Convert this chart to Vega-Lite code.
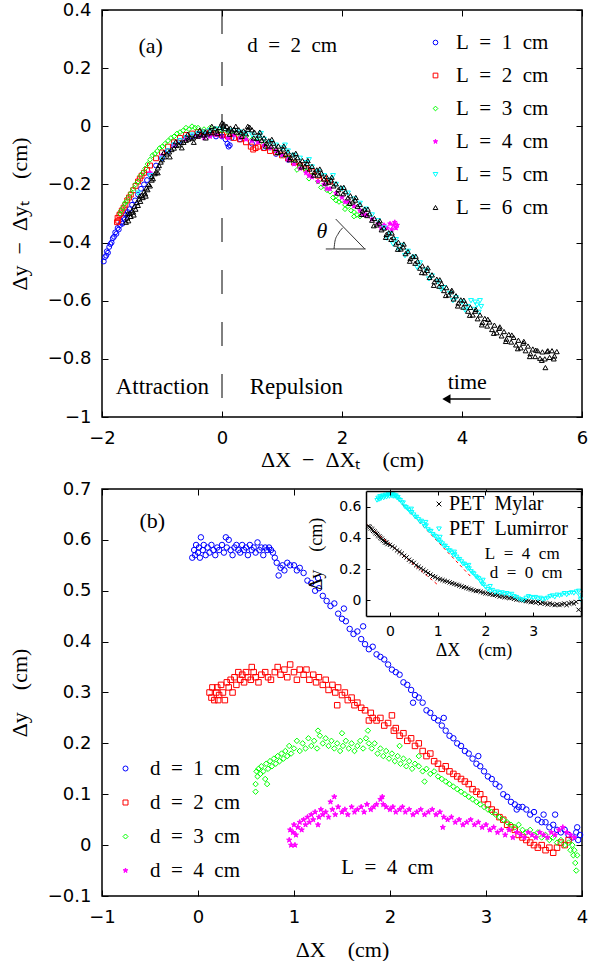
{
"$schema":"https://vega.github.io/schema/vega-lite/v6.json",
"background":"white",
"padding":{"left":7,"top":0,"right":0,"bottom":0},
"bounds":"flush",
"spacing":72,
"config":{
 "view":{"stroke":"black","strokeWidth":1.5},
 "axis":{"domain":false,"grid":false,"tickColor":"black","tickSize":-6,"tickWidth":1,"labelFont":"DejaVu Sans","labelFontSize":18,"labelColor":"black","titleFont":"Liberation Serif","titleFontSize":22,"titleFontWeight":"normal","titleColor":"black","labelFlush":false,"labelOverlap":false,"labelBound":false},
 "legend":{"padding":0,"titleFontSize":0}
},
"resolve":{"scale":{"stroke":"independent","fill":"independent","shape":"independent"},"legend":{"stroke":"independent","fill":"independent","shape":"independent"}},
"vconcat":[
{
 "width":480,"height":407,
 "resolve":{"axis":{"x":"independent","y":"independent"}},
 "layer":[
  {"data":{"values":[
{"L":"1","x":-1.97,"y":-0.465},{"L":"1","x":-1.95,"y":-0.45},{"L":"1","x":-1.93,"y":-0.445},{"L":"1","x":-1.92,"y":-0.43},{"L":"1","x":-1.9,"y":-0.435},{"L":"1","x":-1.88,"y":-0.415},{"L":"1","x":-1.86,"y":-0.405},{"L":"1","x":-1.84,"y":-0.4},{"L":"1","x":-1.82,"y":-0.385},{"L":"1","x":-1.8,"y":-0.38},{"L":"1","x":-1.78,"y":-0.365},{"L":"1","x":-1.76,"y":-0.37},{"L":"1","x":-1.74,"y":-0.35},{"L":"1","x":-1.72,"y":-0.355},{"L":"1","x":-1.7,"y":-0.34},{"L":"1","x":-1.68,"y":-0.33},{"L":"1","x":-1.66,"y":-0.335},{"L":"1","x":-1.64,"y":-0.315},{"L":"1","x":-1.62,"y":-0.32},{"L":"1","x":-1.6,"y":-0.305},{"L":"1","x":-1.57,"y":-0.295},{"L":"1","x":-1.54,"y":-0.285},{"L":"1","x":-1.5,"y":-0.27},{"L":"1","x":-1.45,"y":-0.255},{"L":"1","x":-1.4,"y":-0.235},{"L":"1","x":-1.35,"y":-0.215},{"L":"1","x":-1.3,"y":-0.2},{"L":"1","x":-1.25,"y":-0.185},{"L":"1","x":-1.2,"y":-0.165},{"L":"1","x":-1.1,"y":-0.135},{"L":"1","x":-1.0,"y":-0.11},{"L":"1","x":-0.9,"y":-0.085},{"L":"1","x":-0.8,"y":-0.065},{"L":"1","x":-0.7,"y":-0.05},{"L":"1","x":-0.6,"y":-0.04},{"L":"1","x":-0.5,"y":-0.035},{"L":"1","x":-0.4,"y":-0.03},{"L":"1","x":-0.3,"y":-0.03},{"L":"1","x":-0.2,"y":-0.03},{"L":"1","x":-0.1,"y":-0.035},{"L":"1","x":0.0,"y":-0.035},{"L":"1","x":0.06,"y":-0.045},{"L":"1","x":0.09,"y":-0.06},{"L":"1","x":0.11,"y":-0.07},{"L":"1","x":0.13,"y":-0.065},{"L":"1","x":0.16,"y":-0.04},{"L":"1","x":0.3,"y":-0.045},{"L":"1","x":0.5,"y":-0.06},{"L":"1","x":0.7,"y":-0.075},{"L":"1","x":0.9,"y":-0.095},{"L":"1","x":1.1,"y":-0.115},
{"L":"2","x":-1.75,"y":-0.33},{"L":"2","x":-1.74,"y":-0.315},{"L":"2","x":-1.73,"y":-0.325},{"L":"2","x":-1.71,"y":-0.305},{"L":"2","x":-1.69,"y":-0.3},{"L":"2","x":-1.67,"y":-0.29},{"L":"2","x":-1.64,"y":-0.28},{"L":"2","x":-1.61,"y":-0.27},{"L":"2","x":-1.58,"y":-0.255},{"L":"2","x":-1.55,"y":-0.245},{"L":"2","x":-1.52,"y":-0.235},{"L":"2","x":-1.48,"y":-0.22},{"L":"2","x":-1.44,"y":-0.205},{"L":"2","x":-1.4,"y":-0.19},{"L":"2","x":-1.37,"y":-0.18},{"L":"2","x":-1.34,"y":-0.17},{"L":"2","x":-1.3,"y":-0.16},{"L":"2","x":-1.25,"y":-0.15},{"L":"2","x":-1.2,"y":-0.135},{"L":"2","x":-1.1,"y":-0.11},{"L":"2","x":-1.0,"y":-0.09},{"L":"2","x":-0.9,"y":-0.07},{"L":"2","x":-0.8,"y":-0.055},{"L":"2","x":-0.7,"y":-0.04},{"L":"2","x":-0.6,"y":-0.03},{"L":"2","x":-0.5,"y":-0.025},{"L":"2","x":-0.4,"y":-0.02},{"L":"2","x":-0.3,"y":-0.02},{"L":"2","x":-0.2,"y":-0.02},{"L":"2","x":-0.1,"y":-0.025},{"L":"2","x":0.0,"y":-0.03},{"L":"2","x":0.1,"y":-0.035},{"L":"2","x":0.2,"y":-0.04},{"L":"2","x":0.3,"y":-0.045},{"L":"2","x":0.4,"y":-0.055},{"L":"2","x":0.48,"y":-0.07},{"L":"2","x":0.52,"y":-0.08},{"L":"2","x":0.56,"y":-0.075},{"L":"2","x":0.6,"y":-0.07},{"L":"2","x":0.7,"y":-0.075},{"L":"2","x":0.8,"y":-0.085},{"L":"2","x":0.9,"y":-0.09},{"L":"2","x":1.0,"y":-0.1},{"L":"2","x":1.1,"y":-0.11},{"L":"2","x":1.2,"y":-0.125},{"L":"2","x":1.3,"y":-0.135},{"L":"2","x":1.4,"y":-0.145},{"L":"2","x":1.5,"y":-0.155},{"L":"2","x":1.6,"y":-0.17},{"L":"2","x":1.7,"y":-0.18},{"L":"2","x":1.8,"y":-0.19},
{"L":"3","x":-1.7,"y":-0.3},{"L":"3","x":-1.68,"y":-0.29},{"L":"3","x":-1.65,"y":-0.28},{"L":"3","x":-1.62,"y":-0.265},{"L":"3","x":-1.6,"y":-0.26},{"L":"3","x":-1.56,"y":-0.245},{"L":"3","x":-1.52,"y":-0.23},{"L":"3","x":-1.48,"y":-0.215},{"L":"3","x":-1.44,"y":-0.2},{"L":"3","x":-1.4,"y":-0.19},{"L":"3","x":-1.36,"y":-0.17},{"L":"3","x":-1.32,"y":-0.16},{"L":"3","x":-1.28,"y":-0.145},{"L":"3","x":-1.24,"y":-0.13},{"L":"3","x":-1.2,"y":-0.115},{"L":"3","x":-1.16,"y":-0.1},{"L":"3","x":-1.12,"y":-0.095},{"L":"3","x":-1.08,"y":-0.085},{"L":"3","x":-1.04,"y":-0.075},{"L":"3","x":-1.0,"y":-0.07},{"L":"3","x":-0.95,"y":-0.06},{"L":"3","x":-0.9,"y":-0.05},{"L":"3","x":-0.85,"y":-0.04},{"L":"3","x":-0.8,"y":-0.035},{"L":"3","x":-0.75,"y":-0.025},{"L":"3","x":-0.7,"y":-0.02},{"L":"3","x":-0.65,"y":-0.015},{"L":"3","x":-0.6,"y":-0.005},{"L":"3","x":-0.55,"y":-0.01},{"L":"3","x":-0.5,"y":0.0},{"L":"3","x":-0.45,"y":-0.005},{"L":"3","x":-0.4,"y":-0.005},{"L":"3","x":-0.3,"y":-0.01},{"L":"3","x":-0.2,"y":-0.005},{"L":"3","x":-0.1,"y":-0.01},{"L":"3","x":0.0,"y":-0.015},{"L":"3","x":0.1,"y":-0.02},{"L":"3","x":0.2,"y":-0.025},{"L":"3","x":0.3,"y":-0.03},{"L":"3","x":0.4,"y":-0.035},{"L":"3","x":0.5,"y":-0.045},{"L":"3","x":0.6,"y":-0.05},{"L":"3","x":0.7,"y":-0.06},{"L":"3","x":0.8,"y":-0.075},{"L":"3","x":0.9,"y":-0.085},{"L":"3","x":1.0,"y":-0.1},{"L":"3","x":1.1,"y":-0.11},{"L":"3","x":1.2,"y":-0.125},{"L":"3","x":1.25,"y":-0.15},{"L":"3","x":1.3,"y":-0.14},{"L":"3","x":1.4,"y":-0.155},{"L":"3","x":1.45,"y":-0.18},{"L":"3","x":1.5,"y":-0.17},{"L":"3","x":1.6,"y":-0.19},{"L":"3","x":1.65,"y":-0.21},{"L":"3","x":1.7,"y":-0.205},{"L":"3","x":1.75,"y":-0.22},{"L":"3","x":1.8,"y":-0.225},{"L":"3","x":1.85,"y":-0.245},{"L":"3","x":1.9,"y":-0.24},{"L":"3","x":1.9,"y":-0.255},{"L":"3","x":1.95,"y":-0.26},{"L":"3","x":2.0,"y":-0.255},{"L":"3","x":2.05,"y":-0.27},{"L":"3","x":2.05,"y":-0.285},{"L":"3","x":2.1,"y":-0.275},{"L":"3","x":2.15,"y":-0.29},{"L":"3","x":2.2,"y":-0.295},{"L":"3","x":2.2,"y":-0.31},{"L":"3","x":2.25,"y":-0.305},{"L":"3","x":2.3,"y":-0.31},
{"L":"4","x":-1.2,"y":-0.16},{"L":"4","x":-1.0,"y":-0.1},{"L":"4","x":-0.8,"y":-0.065},{"L":"4","x":-0.6,"y":-0.045},{"L":"4","x":-0.4,"y":-0.035},{"L":"4","x":-0.3,"y":-0.04},{"L":"4","x":-0.2,"y":-0.035},{"L":"4","x":-0.1,"y":-0.03},{"L":"4","x":0.0,"y":-0.035},{"L":"4","x":0.1,"y":-0.04},{"L":"4","x":0.2,"y":-0.03},{"L":"4","x":0.3,"y":-0.04},{"L":"4","x":0.4,"y":-0.045},{"L":"4","x":0.5,"y":-0.05},{"L":"4","x":0.6,"y":-0.055},{"L":"4","x":0.7,"y":-0.065},{"L":"4","x":0.8,"y":-0.075},{"L":"4","x":0.9,"y":-0.085},{"L":"4","x":1.0,"y":-0.1},{"L":"4","x":1.1,"y":-0.115},{"L":"4","x":1.2,"y":-0.13},{"L":"4","x":1.3,"y":-0.145},{"L":"4","x":1.4,"y":-0.16},{"L":"4","x":1.45,"y":-0.17},{"L":"4","x":1.5,"y":-0.175},{"L":"4","x":1.6,"y":-0.19},{"L":"4","x":1.7,"y":-0.2},{"L":"4","x":1.75,"y":-0.215},{"L":"4","x":1.8,"y":-0.215},{"L":"4","x":1.9,"y":-0.23},{"L":"4","x":2.0,"y":-0.245},{"L":"4","x":2.05,"y":-0.26},{"L":"4","x":2.1,"y":-0.26},{"L":"4","x":2.2,"y":-0.275},{"L":"4","x":2.3,"y":-0.29},{"L":"4","x":2.35,"y":-0.305},{"L":"4","x":2.4,"y":-0.305},{"L":"4","x":2.5,"y":-0.32},{"L":"4","x":2.6,"y":-0.335},{"L":"4","x":2.65,"y":-0.35},{"L":"4","x":2.7,"y":-0.34},{"L":"4","x":2.75,"y":-0.35},{"L":"4","x":2.8,"y":-0.335},{"L":"4","x":2.83,"y":-0.355},{"L":"4","x":2.86,"y":-0.34},{"L":"4","x":2.88,"y":-0.33},{"L":"4","x":2.9,"y":-0.35},{"L":"4","x":2.92,"y":-0.34},
{"L":"5","x":-1.4,"y":-0.23},{"L":"5","x":-1.2,"y":-0.17},{"L":"5","x":-1.0,"y":-0.11},{"L":"5","x":-0.9,"y":-0.085},{"L":"5","x":-0.8,"y":-0.065},{"L":"5","x":-0.7,"y":-0.05},{"L":"5","x":-0.6,"y":-0.04},{"L":"5","x":-0.5,"y":-0.03},{"L":"5","x":-0.4,"y":-0.025},{"L":"5","x":-0.3,"y":-0.02},{"L":"5","x":-0.2,"y":-0.015},{"L":"5","x":-0.1,"y":-0.01},{"L":"5","x":0.0,"y":-0.01},{"L":"5","x":0.1,"y":-0.015},{"L":"5","x":0.2,"y":-0.015},{"L":"5","x":0.3,"y":-0.02},{"L":"5","x":0.4,"y":-0.025},{"L":"5","x":0.5,"y":-0.03},{"L":"5","x":0.6,"y":-0.04},{"L":"5","x":0.65,"y":-0.025},{"L":"5","x":0.7,"y":-0.045},{"L":"5","x":0.8,"y":-0.055},{"L":"5","x":0.9,"y":-0.065},{"L":"5","x":1.0,"y":-0.075},{"L":"5","x":1.05,"y":-0.065},{"L":"5","x":1.1,"y":-0.085},{"L":"5","x":1.2,"y":-0.1},{"L":"5","x":1.3,"y":-0.11},{"L":"5","x":1.4,"y":-0.125},{"L":"5","x":1.45,"y":-0.115},{"L":"5","x":1.5,"y":-0.14},{"L":"5","x":1.6,"y":-0.155},{"L":"5","x":1.7,"y":-0.17},{"L":"5","x":1.8,"y":-0.185},{"L":"5","x":1.85,"y":-0.17},{"L":"5","x":1.9,"y":-0.2},{"L":"5","x":2.0,"y":-0.215},{"L":"5","x":2.1,"y":-0.23},{"L":"5","x":2.2,"y":-0.25},{"L":"5","x":2.3,"y":-0.265},{"L":"5","x":2.4,"y":-0.285},{"L":"5","x":2.5,"y":-0.305},{"L":"5","x":2.6,"y":-0.325},{"L":"5","x":2.7,"y":-0.35},{"L":"5","x":2.75,"y":-0.385},{"L":"5","x":2.8,"y":-0.37},{"L":"5","x":2.85,"y":-0.405},{"L":"5","x":2.9,"y":-0.39},{"L":"5","x":2.95,"y":-0.425},{"L":"5","x":3.0,"y":-0.41},{"L":"5","x":3.05,"y":-0.445},{"L":"5","x":3.1,"y":-0.43},{"L":"5","x":3.2,"y":-0.45},{"L":"5","x":3.25,"y":-0.485},{"L":"5","x":3.3,"y":-0.47},{"L":"5","x":3.4,"y":-0.495},{"L":"5","x":3.45,"y":-0.525},{"L":"5","x":3.5,"y":-0.515},{"L":"5","x":3.6,"y":-0.535},{"L":"5","x":3.65,"y":-0.56},{"L":"5","x":3.7,"y":-0.555},{"L":"5","x":3.8,"y":-0.575},{"L":"5","x":3.85,"y":-0.6},{"L":"5","x":3.9,"y":-0.59},{"L":"5","x":4.0,"y":-0.605},{"L":"5","x":4.05,"y":-0.632},{"L":"5","x":4.1,"y":-0.62},{"L":"5","x":4.15,"y":-0.6},{"L":"5","x":4.2,"y":-0.63},{"L":"5","x":4.22,"y":-0.605},{"L":"5","x":4.25,"y":-0.615},{"L":"5","x":4.28,"y":-0.64},{"L":"5","x":4.3,"y":-0.6},{"L":"5","x":4.32,"y":-0.62},
{"L":"6","x":-1.6,"y":-0.33},{"L":"6","x":-1.58,"y":-0.315},{"L":"6","x":-1.56,"y":-0.325},{"L":"6","x":-1.54,"y":-0.3},{"L":"6","x":-1.52,"y":-0.31},{"L":"6","x":-1.5,"y":-0.29},{"L":"6","x":-1.48,"y":-0.295},{"L":"6","x":-1.46,"y":-0.275},{"L":"6","x":-1.44,"y":-0.285},{"L":"6","x":-1.42,"y":-0.262},{"L":"6","x":-1.4,"y":-0.272},{"L":"6","x":-1.38,"y":-0.25},{"L":"6","x":-1.36,"y":-0.258},{"L":"6","x":-1.34,"y":-0.238},{"L":"6","x":-1.32,"y":-0.245},{"L":"6","x":-1.3,"y":-0.225},{"L":"6","x":-1.28,"y":-0.232},{"L":"6","x":-1.26,"y":-0.212},{"L":"6","x":-1.24,"y":-0.218},{"L":"6","x":-1.22,"y":-0.2},{"L":"6","x":-1.2,"y":-0.205},{"L":"6","x":-1.17,"y":-0.185},{"L":"6","x":-1.15,"y":-0.18},{"L":"6","x":-1.12,"y":-0.163},{"L":"6","x":-1.1,"y":-0.158},{"L":"6","x":-1.07,"y":-0.143},{"L":"6","x":-1.05,"y":-0.135},{"L":"6","x":-1.02,"y":-0.123},{"L":"6","x":-1.0,"y":-0.115},{"L":"6","x":-0.96,"y":-0.105},{"L":"6","x":-0.92,"y":-0.095},{"L":"6","x":-0.88,"y":-0.088},{"L":"6","x":-0.84,"y":-0.08},{"L":"6","x":-0.8,"y":-0.075},{"L":"6","x":-0.76,"y":-0.066},{"L":"6","x":-0.72,"y":-0.064},{"L":"6","x":-0.68,"y":-0.056},{"L":"6","x":-0.64,"y":-0.055},{"L":"6","x":-0.6,"y":-0.048},{"L":"6","x":-0.56,"y":-0.044},{"L":"6","x":-0.52,"y":-0.04},{"L":"6","x":-0.48,"y":-0.04},{"L":"6","x":-0.44,"y":-0.032},{"L":"6","x":-0.4,"y":-0.034},{"L":"6","x":-0.36,"y":-0.027},{"L":"6","x":-0.32,"y":-0.03},{"L":"6","x":-0.28,"y":-0.02},{"L":"6","x":-0.24,"y":-0.026},{"L":"6","x":-0.2,"y":-0.015},{"L":"6","x":-0.16,"y":-0.022},{"L":"6","x":-0.12,"y":-0.008},{"L":"6","x":-0.08,"y":-0.016},{"L":"6","x":-0.04,"y":-0.004},{"L":"6","x":0.0,"y":0.012},{"L":"6","x":0.02,"y":0.002},{"L":"6","x":0.05,"y":-0.008},{"L":"6","x":0.08,"y":0.0},{"L":"6","x":0.11,"y":-0.012},{"L":"6","x":0.14,"y":-0.006},{"L":"6","x":0.17,"y":-0.016},{"L":"6","x":0.2,"y":-0.01},{"L":"6","x":0.24,"y":-0.02},{"L":"6","x":0.28,"y":-0.012},{"L":"6","x":0.32,"y":-0.022},{"L":"6","x":0.36,"y":-0.016},{"L":"6","x":0.4,"y":-0.026},{"L":"6","x":0.43,"y":-0.01},{"L":"6","x":0.46,"y":-0.003},{"L":"6","x":0.5,"y":-0.012},
{"L":"6","x":0.54,"y":-0.02},{"L":"6","x":0.58,"y":-0.042},{"L":"6","x":0.62,"y":-0.03},{"L":"6","x":0.66,"y":-0.048},{"L":"6","x":0.7,"y":-0.04},{"L":"6","x":0.74,"y":-0.058},{"L":"6","x":0.78,"y":-0.05},{"L":"6","x":0.82,"y":-0.068},{"L":"6","x":0.86,"y":-0.058},{"L":"6","x":0.9,"y":-0.076},{"L":"6","x":0.94,"y":-0.068},{"L":"6","x":0.98,"y":-0.087},{"L":"6","x":1.02,"y":-0.078},{"L":"6","x":1.06,"y":-0.096},{"L":"6","x":1.1,"y":-0.088},{"L":"6","x":1.14,"y":-0.107},{"L":"6","x":1.18,"y":-0.098},{"L":"6","x":1.22,"y":-0.116},{"L":"6","x":1.26,"y":-0.108},{"L":"6","x":1.3,"y":-0.126},{"L":"6","x":1.34,"y":-0.118},{"L":"6","x":1.38,"y":-0.137},{"L":"6","x":1.42,"y":-0.128},{"L":"6","x":1.46,"y":-0.147},{"L":"6","x":1.5,"y":-0.138},{"L":"6","x":1.54,"y":-0.158},{"L":"6","x":1.58,"y":-0.15},{"L":"6","x":1.62,"y":-0.168},{"L":"6","x":1.66,"y":-0.161},{"L":"6","x":1.7,"y":-0.181},{"L":"6","x":1.74,"y":-0.173},{"L":"6","x":1.78,"y":-0.192},{"L":"6","x":1.82,"y":-0.185},{"L":"6","x":1.86,"y":-0.205},{"L":"6","x":1.9,"y":-0.198},{"L":"6","x":1.94,"y":-0.218},{"L":"6","x":1.98,"y":-0.211},{"L":"6","x":2.02,"y":-0.232},{"L":"6","x":2.06,"y":-0.225},{"L":"6","x":2.1,"y":-0.246},{"L":"6","x":2.14,"y":-0.239},{"L":"6","x":2.18,"y":-0.26},{"L":"6","x":2.22,"y":-0.254},{"L":"6","x":2.26,"y":-0.275},{"L":"6","x":2.3,"y":-0.269},{"L":"6","x":2.34,"y":-0.291},{"L":"6","x":2.38,"y":-0.285},{"L":"6","x":2.42,"y":-0.307},{"L":"6","x":2.46,"y":-0.301},{"L":"6","x":2.5,"y":-0.323},{"L":"6","x":2.54,"y":-0.317},{"L":"6","x":2.58,"y":-0.339},{"L":"6","x":2.62,"y":-0.333},{"L":"6","x":2.66,"y":-0.356},{"L":"6","x":2.7,"y":-0.35},{"L":"6","x":2.74,"y":-0.372},{"L":"6","x":2.78,"y":-0.366},{"L":"6","x":2.82,"y":-0.389},{"L":"6","x":2.86,"y":-0.383},{"L":"6","x":2.9,"y":-0.405},{"L":"6","x":2.94,"y":-0.399},{"L":"6","x":2.98,"y":-0.422},{"L":"6","x":3.02,"y":-0.415},{"L":"6","x":3.06,"y":-0.438},{"L":"6","x":3.1,"y":-0.431},{"L":"6","x":3.14,"y":-0.455},{"L":"6","x":3.18,"y":-0.448},{"L":"6","x":3.22,"y":-0.471},{"L":"6","x":3.26,"y":-0.464},{"L":"6","x":3.3,"y":-0.488},{"L":"6","x":3.34,"y":-0.48},{"L":"6","x":3.38,"y":-0.504},{"L":"6","x":3.42,"y":-0.496},{"L":"6","x":3.46,"y":-0.52},{"L":"6","x":3.5,"y":-0.511},{"L":"6","x":3.54,"y":-0.535},{"L":"6","x":3.58,"y":-0.526},{"L":"6","x":3.62,"y":-0.55},{"L":"6","x":3.66,"y":-0.541},{"L":"6","x":3.7,"y":-0.565},{"L":"6","x":3.74,"y":-0.555},{"L":"6","x":3.78,"y":-0.58},{"L":"6","x":3.82,"y":-0.569},{"L":"6","x":3.86,"y":-0.594},{"L":"6","x":3.9,"y":-0.583},{"L":"6","x":3.94,"y":-0.608},{"L":"6","x":3.98,"y":-0.597},{"L":"6","x":4.02,"y":-0.622},{"L":"6","x":4.06,"y":-0.61},{"L":"6","x":4.1,"y":-0.636},{"L":"6","x":4.14,"y":-0.623},{"L":"6","x":4.18,"y":-0.649},{"L":"6","x":4.22,"y":-0.636},{"L":"6","x":4.26,"y":-0.662},{"L":"6","x":4.3,"y":-0.649},{"L":"6","x":4.34,"y":-0.675},{"L":"6","x":4.38,"y":-0.661},{"L":"6","x":4.42,"y":-0.687},{"L":"6","x":4.46,"y":-0.673},{"L":"6","x":4.5,"y":-0.699},{"L":"6","x":4.54,"y":-0.684},{"L":"6","x":4.58,"y":-0.71},{"L":"6","x":4.62,"y":-0.695},{"L":"6","x":4.66,"y":-0.721},{"L":"6","x":4.7,"y":-0.706},{"L":"6","x":4.74,"y":-0.732},{"L":"6","x":4.78,"y":-0.716},{"L":"6","x":4.82,"y":-0.742},{"L":"6","x":4.86,"y":-0.726},{"L":"6","x":4.9,"y":-0.752},{"L":"6","x":4.94,"y":-0.736},{"L":"6","x":4.98,"y":-0.762},{"L":"6","x":5.02,"y":-0.746},{"L":"6","x":5.06,"y":-0.772},{"L":"6","x":5.1,"y":-0.756},{"L":"6","x":5.14,"y":-0.782},{"L":"6","x":5.18,"y":-0.766},{"L":"6","x":5.22,"y":-0.792},{"L":"6","x":5.26,"y":-0.772},{"L":"6","x":5.3,"y":-0.798},{"L":"6","x":5.34,"y":-0.776},{"L":"6","x":5.38,"y":-0.8},{"L":"6","x":5.42,"y":-0.775},{"L":"6","x":5.46,"y":-0.795},{"L":"6","x":5.5,"y":-0.772},{"L":"6","x":5.54,"y":-0.79},{"L":"6","x":5.58,"y":-0.775},{"L":"6","x":5.39,"y":-0.83},
{"L":"6","x":-1.57,"y":-0.3},{"L":"6","x":-1.47,"y":-0.305},{"L":"6","x":-1.37,"y":-0.24},{"L":"6","x":-1.27,"y":-0.24},{"L":"6","x":-1.17,"y":-0.172},{"L":"6","x":-1.07,"y":-0.16},{"L":"6","x":-0.97,"y":-0.09},{"L":"6","x":-0.87,"y":-0.105},{"L":"6","x":-0.77,"y":-0.053},{"L":"6","x":-0.67,"y":-0.074},{"L":"6","x":-0.57,"y":-0.027},{"L":"6","x":-0.47,"y":-0.055},{"L":"6","x":-0.37,"y":-0.013},{"L":"6","x":-0.27,"y":-0.04},{"L":"6","x":-0.17,"y":0.0},{"L":"6","x":-0.07,"y":-0.025},{"L":"6","x":0.03,"y":0.008},{"L":"6","x":0.13,"y":-0.027},{"L":"6","x":0.23,"y":0.0},{"L":"6","x":0.33,"y":-0.035},{"L":"6","x":0.43,"y":0.0},{"L":"6","x":0.53,"y":-0.04},{"L":"6","x":0.63,"y":-0.02},{"L":"6","x":0.73,"y":-0.068},{"L":"6","x":0.83,"y":-0.045},{"L":"6","x":0.93,"y":-0.09},{"L":"6","x":1.03,"y":-0.068},{"L":"6","x":1.13,"y":-0.115},{"L":"6","x":1.23,"y":-0.093},{"L":"6","x":1.33,"y":-0.14},{"L":"6","x":1.43,"y":-0.118},{"L":"6","x":1.53,"y":-0.168},{"L":"6","x":1.63,"y":-0.147},{"L":"6","x":1.73,"y":-0.195},{"L":"6","x":1.83,"y":-0.175},{"L":"6","x":1.93,"y":-0.23},{"L":"6","x":2.03,"y":-0.21},{"L":"6","x":2.13,"y":-0.265},{"L":"6","x":2.23,"y":-0.245},{"L":"6","x":2.33,"y":-0.303},{"L":"6","x":2.43,"y":-0.285},{"L":"6","x":2.53,"y":-0.342},{"L":"6","x":2.63,"y":-0.325},{"L":"6","x":2.73,"y":-0.382},{"L":"6","x":2.83,"y":-0.367},{"L":"6","x":2.93,"y":-0.423},{"L":"6","x":3.03,"y":-0.405},{"L":"6","x":3.13,"y":-0.464},{"L":"6","x":3.23,"y":-0.447},{"L":"6","x":3.33,"y":-0.503},{"L":"6","x":3.43,"y":-0.487},{"L":"6","x":3.53,"y":-0.547},{"L":"6","x":3.63,"y":-0.528},{"L":"6","x":3.73,"y":-0.582},{"L":"6","x":3.83,"y":-0.564},{"L":"6","x":3.93,"y":-0.618},{"L":"6","x":4.03,"y":-0.598},{"L":"6","x":4.13,"y":-0.65},{"L":"6","x":4.23,"y":-0.63},{"L":"6","x":4.33,"y":-0.683},{"L":"6","x":4.43,"y":-0.664},{"L":"6","x":4.53,"y":-0.712},{"L":"6","x":4.63,"y":-0.69},{"L":"6","x":4.73,"y":-0.74},{"L":"6","x":4.83,"y":-0.718},{"L":"6","x":4.93,"y":-0.765},{"L":"6","x":5.03,"y":-0.74},{"L":"6","x":5.13,"y":-0.792},{"L":"6","x":5.23,"y":-0.77},{"L":"6","x":5.33,"y":-0.805},{"L":"6","x":5.43,"y":-0.772},{"L":"6","x":5.53,"y":-0.8}
  ]},
   "mark":{"type":"point","opacity":1,"strokeWidth":1,"size":24},
   "encoding":{
    "x":{"field":"x","type":"quantitative","scale":{"domain":[-2,6],"nice":false,"zero":false},"axis":{"orient":"bottom","values":[-2,0,2,4,6],"format":"~g","title":"ΔX\u2002−\u2002ΔXₜ\u2003(cm)","titlePadding":2,"labelPadding":18}},
    "y":{"field":"y","type":"quantitative","scale":{"domain":[-1,0.4],"nice":false,"zero":false},"axis":{"orient":"left","values":[-1,-0.8,-0.6,-0.4,-0.2,0,0.2,0.4],"format":"~g","title":"Δy\u2002−\u2002Δyₜ\u2003(cm)","titlePadding":16,"labelPadding":17}},
    "stroke":{"field":"L","type":"nominal","scale":{"domain":["1","2","3","4","5","6"],"range":["#0000ff","#ff0000","#00ff00","#ff00ff","#00ffff","#000000"]},"legend":{"orient":"none","legendX":323,"legendY":22,"title":null,"labelFont":"Liberation Serif","labelFontSize":21,"labelColor":"black","labelOffset":10,"rowPadding":11,"symbolSize":22,"symbolStrokeWidth":1,"labelExpr":"'L\u2002=\u2002' + datum.label + '\u2002cm'"}},
    "fill":{"field":"L","type":"nominal","scale":{"domain":["1","2","3","4","5","6"],"range":["transparent","transparent","transparent","#ff00ff","transparent","transparent"]},"legend":{"orient":"none","legendX":323,"legendY":22,"title":null,"labelFont":"Liberation Serif","labelFontSize":21,"labelColor":"black","labelOffset":10,"rowPadding":11,"symbolSize":22,"symbolStrokeWidth":1,"labelExpr":"'L\u2002=\u2002' + datum.label + '\u2002cm'"}},
    "shape":{"field":"L","type":"nominal","scale":{"domain":["1","2","3","4","5","6"],"range":["circle","square","diamond","M0,-1L0.2245,-0.309L0.951,-0.309L0.363,0.118L0.588,0.809L0,0.382L-0.588,0.809L-0.363,0.118L-0.951,-0.309L-0.2245,-0.309Z","triangle-down","triangle-up"]},"legend":{"orient":"none","legendX":323,"legendY":22,"title":null,"labelFont":"Liberation Serif","labelFontSize":21,"labelColor":"black","labelOffset":10,"rowPadding":11,"symbolSize":22,"symbolStrokeWidth":1,"labelExpr":"'L\u2002=\u2002' + datum.label + '\u2002cm'"}}
   }},
  {"data":{"values":[{}]},"mark":{"type":"rule","strokeDash":[24,28],"color":"black","strokeWidth":1},
   "encoding":{"x":{"datum":0,"scale":{"domain":[-2,6],"nice":false,"zero":false},"axis":{"orient":"top","values":[-2,0,2,4,6],"labels":false,"title":null}},
    "y":{"datum":0.4,"scale":{"domain":[-1,0.4],"nice":false,"zero":false},"axis":{"orient":"right","values":[-1,-0.8,-0.6,-0.4,-0.2,0,0.2,0.4],"labels":false,"title":null}},
    "y2":{"datum":-1}}},
  {"data":{"values":[{}]},"mark":{"type":"text","text":"(a)","font":"Liberation Serif","fontSize":22,"align":"center","baseline":"middle","color":"black"},
   "encoding":{"x":{"datum":-1.19,"scale":{"domain":[-2,6],"nice":false,"zero":false},"axis":null},"y":{"datum":0.277,"scale":{"domain":[-1,0.4],"nice":false,"zero":false},"axis":null}}},
  {"data":{"values":[{}]},"mark":{"type":"text","text":"d\u2002=\u20022\u2002cm","font":"Liberation Serif","fontSize":21,"align":"center","baseline":"middle","color":"black"},
   "encoding":{"x":{"datum":1.17,"scale":{"domain":[-2,6],"nice":false,"zero":false},"axis":null},"y":{"datum":0.277,"scale":{"domain":[-1,0.4],"nice":false,"zero":false},"axis":null}}},
  {"data":{"values":[{}]},"mark":{"type":"text","text":"Attraction","font":"Liberation Serif","fontSize":23,"align":"center","baseline":"middle","color":"black"},
   "encoding":{"x":{"datum":-0.995,"scale":{"domain":[-2,6],"nice":false,"zero":false},"axis":null},"y":{"datum":-0.898,"scale":{"domain":[-1,0.4],"nice":false,"zero":false},"axis":null}}},
  {"data":{"values":[{}]},"mark":{"type":"text","text":"Repulsion","font":"Liberation Serif","fontSize":23,"align":"center","baseline":"middle","color":"black"},
   "encoding":{"x":{"datum":1.24,"scale":{"domain":[-2,6],"nice":false,"zero":false},"axis":null},"y":{"datum":-0.898,"scale":{"domain":[-1,0.4],"nice":false,"zero":false},"axis":null}}},
  {"data":{"values":[{}]},"mark":{"type":"text","text":"time","font":"Liberation Serif","fontSize":22,"align":"center","baseline":"middle","color":"black"},
   "encoding":{"x":{"datum":4.088,"scale":{"domain":[-2,6],"nice":false,"zero":false},"axis":null},"y":{"datum":-0.881,"scale":{"domain":[-1,0.4],"nice":false,"zero":false},"axis":null}}},
  {"data":{"values":[{}]},"mark":{"type":"rule","color":"black","strokeWidth":1.5},
   "encoding":{"x":{"datum":3.72,"scale":{"domain":[-2,6],"nice":false,"zero":false},"axis":null},"x2":{"datum":4.478},"y":{"datum":-0.938,"scale":{"domain":[-1,0.4],"nice":false,"zero":false},"axis":null}}},
  {"data":{"values":[{}]},"mark":{"type":"point","shape":"triangle-left","filled":true,"color":"black","opacity":1,"size":90},
   "encoding":{"x":{"datum":3.74,"scale":{"domain":[-2,6],"nice":false,"zero":false},"axis":null},"y":{"datum":-0.938,"scale":{"domain":[-1,0.4],"nice":false,"zero":false},"axis":null}}},
  {"data":{"values":[{}]},"mark":{"type":"rule","color":"#333333","strokeWidth":1},
   "encoding":{"x":{"datum":1.73,"scale":{"domain":[-2,6],"nice":false,"zero":false},"axis":null},"x2":{"datum":2.395},"y":{"datum":-0.422,"scale":{"domain":[-1,0.4],"nice":false,"zero":false},"axis":null}}},
  {"data":{"values":[{}]},"mark":{"type":"rule","color":"#333333","strokeWidth":1},
   "encoding":{"x":{"datum":1.895,"scale":{"domain":[-2,6],"nice":false,"zero":false},"axis":null},"x2":{"datum":2.38},"y":{"datum":-0.319,"scale":{"domain":[-1,0.4],"nice":false,"zero":false},"axis":null},"y2":{"datum":-0.422}}},
  {"data":{"values":[{"x":1.867,"y":-0.422},{"x":1.883,"y":-0.395},{"x":1.933,"y":-0.371},{"x":2.013,"y":-0.349}]},"mark":{"type":"line","color":"#333333","strokeWidth":1,"interpolate":"monotone"},
   "encoding":{"x":{"field":"x","type":"quantitative","scale":{"domain":[-2,6],"nice":false,"zero":false},"axis":null},"y":{"field":"y","type":"quantitative","scale":{"domain":[-1,0.4],"nice":false,"zero":false},"axis":null}}},
  {"data":{"values":[{}]},"mark":{"type":"text","text":"θ","font":"Liberation Serif","fontStyle":"italic","fontSize":22,"align":"center","baseline":"middle","color":"black"},
   "encoding":{"x":{"datum":1.667,"scale":{"domain":[-2,6],"nice":false,"zero":false},"axis":null},"y":{"datum":-0.36,"scale":{"domain":[-1,0.4],"nice":false,"zero":false},"axis":null}}}
 ]
},
{
 "width":480,"height":407,
 "resolve":{"scale":{"x":"independent","y":"independent","stroke":"independent","fill":"independent","shape":"independent"},"axis":{"x":"independent","y":"independent"},"legend":{"stroke":"independent","fill":"independent","shape":"independent"}},
 "layer":[
  {"data":{"values":[
{"d":"1","x":-0.06,"y":0.565},{"d":"1","x":-0.04,"y":0.58},{"d":"1","x":-0.03,"y":0.57},{"d":"1","x":-0.02,"y":0.59},{"d":"1","x":0.0,"y":0.575},{"d":"1","x":0.01,"y":0.585},{"d":"1","x":0.02,"y":0.565},{"d":"1","x":0.03,"y":0.605},{"d":"1","x":0.05,"y":0.58},{"d":"1","x":0.06,"y":0.59},{"d":"1","x":0.08,"y":0.57},{"d":"1","x":0.1,"y":0.585},{"d":"1","x":0.12,"y":0.575},{"d":"1","x":0.14,"y":0.59},{"d":"1","x":0.16,"y":0.58},{"d":"1","x":0.18,"y":0.57},{"d":"1","x":0.2,"y":0.585},{"d":"1","x":0.22,"y":0.58},{"d":"1","x":0.25,"y":0.59},{"d":"1","x":0.27,"y":0.575},{"d":"1","x":0.29,"y":0.605},{"d":"1","x":0.3,"y":0.585},{"d":"1","x":0.32,"y":0.6},{"d":"1","x":0.34,"y":0.58},{"d":"1","x":0.36,"y":0.57},{"d":"1","x":0.38,"y":0.585},{"d":"1","x":0.4,"y":0.59},{"d":"1","x":0.42,"y":0.58},{"d":"1","x":0.44,"y":0.575},{"d":"1","x":0.46,"y":0.59},{"d":"1","x":0.48,"y":0.58},{"d":"1","x":0.5,"y":0.585},{"d":"1","x":0.52,"y":0.57},{"d":"1","x":0.54,"y":0.59},{"d":"1","x":0.56,"y":0.58},{"d":"1","x":0.58,"y":0.585},{"d":"1","x":0.6,"y":0.575},{"d":"1","x":0.62,"y":0.595},{"d":"1","x":0.64,"y":0.58},{"d":"1","x":0.66,"y":0.585},{"d":"1","x":0.68,"y":0.57},{"d":"1","x":0.7,"y":0.585},{"d":"1","x":0.72,"y":0.58},{"d":"1","x":0.74,"y":0.585},{"d":"1","x":0.76,"y":0.58},{"d":"1","x":0.78,"y":0.575},{"d":"1","x":0.8,"y":0.565},{"d":"1","x":0.82,"y":0.555},{"d":"1","x":0.84,"y":0.53},{"d":"1","x":0.86,"y":0.545},{"d":"1","x":0.88,"y":0.55},{"d":"1","x":0.9,"y":0.54},{"d":"1","x":0.93,"y":0.555},{"d":"1","x":0.96,"y":0.55},{"d":"1","x":1.0,"y":0.55},{"d":"1","x":1.03,"y":0.54},{"d":"1","x":1.06,"y":0.545},{"d":"1","x":1.1,"y":0.535},{"d":"1","x":1.14,"y":0.52},{"d":"1","x":1.18,"y":0.515},{"d":"1","x":1.22,"y":0.5},{"d":"1","x":1.25,"y":0.525},{"d":"1","x":1.26,"y":0.505},{"d":"1","x":1.3,"y":0.49},{"d":"1","x":1.34,"y":0.48},{"d":"1","x":1.38,"y":0.47},{"d":"1","x":1.42,"y":0.475},{"d":"1","x":1.46,"y":0.455},{"d":"1","x":1.5,"y":0.445},{"d":"1","x":1.52,"y":0.465},{"d":"1","x":1.54,"y":0.44},{"d":"1","x":1.58,"y":0.425},{"d":"1","x":1.62,"y":0.415},{"d":"1","x":1.66,"y":0.42},{"d":"1","x":1.7,"y":0.405},{"d":"1","x":1.72,"y":0.43},{"d":"1","x":1.74,"y":0.395},{"d":"1","x":1.78,"y":0.385},{"d":"1","x":1.82,"y":0.39},{"d":"1","x":1.86,"y":0.375},{"d":"1","x":1.9,"y":0.37},{"d":"1","x":1.94,"y":0.365},{"d":"1","x":1.98,"y":0.355},{"d":"1","x":2.02,"y":0.345},{"d":"1","x":2.06,"y":0.34},{"d":"1","x":2.1,"y":0.335},{"d":"1","x":2.14,"y":0.32},{"d":"1","x":2.18,"y":0.315},{"d":"1","x":2.22,"y":0.305},{"d":"1","x":2.24,"y":0.28},{"d":"1","x":2.26,"y":0.295},{"d":"1","x":2.3,"y":0.29},{"d":"1","x":2.34,"y":0.28},{"d":"1","x":2.38,"y":0.265},{"d":"1","x":2.42,"y":0.26},{"d":"1","x":2.46,"y":0.25},{"d":"1","x":2.5,"y":0.245},{"d":"1","x":2.54,"y":0.235},{"d":"1","x":2.56,"y":0.25},{"d":"1","x":2.58,"y":0.225},{"d":"1","x":2.62,"y":0.215},{"d":"1","x":2.66,"y":0.21},{"d":"1","x":2.7,"y":0.2},{"d":"1","x":2.74,"y":0.195},{"d":"1","x":2.78,"y":0.185},{"d":"1","x":2.82,"y":0.18},{"d":"1","x":2.86,"y":0.17},{"d":"1","x":2.9,"y":0.16},{"d":"1","x":2.92,"y":0.175},{"d":"1","x":2.94,"y":0.155},{"d":"1","x":2.98,"y":0.145},{"d":"1","x":3.02,"y":0.135},{"d":"1","x":3.06,"y":0.13},{"d":"1","x":3.1,"y":0.12},{"d":"1","x":3.14,"y":0.115},{"d":"1","x":3.18,"y":0.1},{"d":"1","x":3.22,"y":0.095},{"d":"1","x":3.26,"y":0.085},{"d":"1","x":3.3,"y":0.08},{"d":"1","x":3.32,"y":0.07},{"d":"1","x":3.34,"y":0.075},{"d":"1","x":3.38,"y":0.075},{"d":"1","x":3.42,"y":0.07},{"d":"1","x":3.46,"y":0.06},{"d":"1","x":3.5,"y":0.065},{"d":"1","x":3.54,"y":0.05},{"d":"1","x":3.58,"y":0.045},{"d":"1","x":3.6,"y":0.06},{"d":"1","x":3.62,"y":0.045},{"d":"1","x":3.66,"y":0.035},{"d":"1","x":3.7,"y":0.04},{"d":"1","x":3.72,"y":0.06},{"d":"1","x":3.74,"y":0.03},{"d":"1","x":3.78,"y":0.025},{"d":"1","x":3.82,"y":0.03},{"d":"1","x":3.86,"y":0.02},{"d":"1","x":3.9,"y":0.015},{"d":"1","x":3.94,"y":0.025},{"d":"1","x":3.95,"y":0.035},{"d":"1","x":3.96,"y":0.01},{"d":"1","x":3.98,"y":0.02},
{"d":"2","x":0.12,"y":0.3},{"d":"2","x":0.14,"y":0.29},{"d":"2","x":0.15,"y":0.31},{"d":"2","x":0.17,"y":0.285},{"d":"2","x":0.19,"y":0.3},{"d":"2","x":0.2,"y":0.31},{"d":"2","x":0.21,"y":0.285},{"d":"2","x":0.22,"y":0.295},{"d":"2","x":0.24,"y":0.315},{"d":"2","x":0.26,"y":0.3},{"d":"2","x":0.28,"y":0.285},{"d":"2","x":0.3,"y":0.32},{"d":"2","x":0.32,"y":0.31},{"d":"2","x":0.34,"y":0.325},{"d":"2","x":0.36,"y":0.3},{"d":"2","x":0.38,"y":0.33},{"d":"2","x":0.4,"y":0.315},{"d":"2","x":0.42,"y":0.34},{"d":"2","x":0.44,"y":0.325},{"d":"2","x":0.46,"y":0.335},{"d":"2","x":0.48,"y":0.32},{"d":"2","x":0.5,"y":0.34},{"d":"2","x":0.52,"y":0.33},{"d":"2","x":0.55,"y":0.325},{"d":"2","x":0.56,"y":0.35},{"d":"2","x":0.58,"y":0.34},{"d":"2","x":0.6,"y":0.33},{"d":"2","x":0.63,"y":0.32},{"d":"2","x":0.66,"y":0.335},{"d":"2","x":0.7,"y":0.34},{"d":"2","x":0.73,"y":0.33},{"d":"2","x":0.76,"y":0.325},{"d":"2","x":0.8,"y":0.34},{"d":"2","x":0.83,"y":0.35},{"d":"2","x":0.86,"y":0.335},{"d":"2","x":0.9,"y":0.345},{"d":"2","x":0.93,"y":0.33},{"d":"2","x":0.96,"y":0.355},{"d":"2","x":1.0,"y":0.34},{"d":"2","x":1.03,"y":0.325},{"d":"2","x":1.06,"y":0.345},{"d":"2","x":1.1,"y":0.335},{"d":"2","x":1.13,"y":0.345},{"d":"2","x":1.16,"y":0.325},{"d":"2","x":1.2,"y":0.335},{"d":"2","x":1.23,"y":0.32},{"d":"2","x":1.26,"y":0.33},{"d":"2","x":1.3,"y":0.315},{"d":"2","x":1.33,"y":0.325},{"d":"2","x":1.36,"y":0.305},{"d":"2","x":1.4,"y":0.315},{"d":"2","x":1.43,"y":0.3},{"d":"2","x":1.45,"y":0.275},{"d":"2","x":1.46,"y":0.31},{"d":"2","x":1.5,"y":0.295},{"d":"2","x":1.53,"y":0.3},{"d":"2","x":1.56,"y":0.285},{"d":"2","x":1.6,"y":0.29},{"d":"2","x":1.63,"y":0.275},{"d":"2","x":1.66,"y":0.28},{"d":"2","x":1.7,"y":0.27},{"d":"2","x":1.74,"y":0.265},{"d":"2","x":1.78,"y":0.245},{"d":"2","x":1.8,"y":0.26},{"d":"2","x":1.82,"y":0.25},{"d":"2","x":1.86,"y":0.245},{"d":"2","x":1.9,"y":0.25},{"d":"2","x":1.94,"y":0.235},{"d":"2","x":1.98,"y":0.24},{"d":"2","x":2.02,"y":0.255},{"d":"2","x":2.04,"y":0.225},{"d":"2","x":2.06,"y":0.23},{"d":"2","x":2.1,"y":0.215},{"d":"2","x":2.14,"y":0.22},{"d":"2","x":2.18,"y":0.205},{"d":"2","x":2.22,"y":0.21},{"d":"2","x":2.26,"y":0.195},{"d":"2","x":2.3,"y":0.2},{"d":"2","x":2.34,"y":0.185},{"d":"2","x":2.38,"y":0.175},{"d":"2","x":2.42,"y":0.18},{"d":"2","x":2.46,"y":0.165},{"d":"2","x":2.5,"y":0.16},{"d":"2","x":2.54,"y":0.15},{"d":"2","x":2.58,"y":0.155},{"d":"2","x":2.62,"y":0.145},{"d":"2","x":2.66,"y":0.14},{"d":"2","x":2.7,"y":0.135},{"d":"2","x":2.74,"y":0.13},{"d":"2","x":2.78,"y":0.125},{"d":"2","x":2.82,"y":0.12},{"d":"2","x":2.86,"y":0.11},{"d":"2","x":2.9,"y":0.105},{"d":"2","x":2.94,"y":0.1},{"d":"2","x":2.98,"y":0.09},{"d":"2","x":3.02,"y":0.08},{"d":"2","x":3.06,"y":0.07},{"d":"2","x":3.1,"y":0.065},{"d":"2","x":3.14,"y":0.055},{"d":"2","x":3.18,"y":0.05},{"d":"2","x":3.22,"y":0.04},{"d":"2","x":3.26,"y":0.035},{"d":"2","x":3.3,"y":0.03},{"d":"2","x":3.34,"y":0.02},{"d":"2","x":3.38,"y":0.015},{"d":"2","x":3.42,"y":0.01},{"d":"2","x":3.46,"y":0.005},{"d":"2","x":3.5,"y":0.0},{"d":"2","x":3.54,"y":-0.005},{"d":"2","x":3.58,"y":0.0},{"d":"2","x":3.62,"y":-0.01},{"d":"2","x":3.66,"y":-0.005},{"d":"2","x":3.7,"y":-0.015},{"d":"2","x":3.74,"y":-0.005},{"d":"2","x":3.78,"y":0.005},{"d":"2","x":3.82,"y":0.0},{"d":"2","x":3.86,"y":0.01},
{"d":"3","x":0.6,"y":0.12},{"d":"3","x":0.6,"y":0.105},{"d":"3","x":0.61,"y":0.145},{"d":"3","x":0.62,"y":0.135},{"d":"3","x":0.63,"y":0.15},{"d":"3","x":0.65,"y":0.14},{"d":"3","x":0.66,"y":0.155},{"d":"3","x":0.68,"y":0.145},{"d":"3","x":0.7,"y":0.13},{"d":"3","x":0.71,"y":0.16},{"d":"3","x":0.72,"y":0.12},{"d":"3","x":0.73,"y":0.15},{"d":"3","x":0.75,"y":0.165},{"d":"3","x":0.77,"y":0.155},{"d":"3","x":0.79,"y":0.17},{"d":"3","x":0.81,"y":0.16},{"d":"3","x":0.83,"y":0.175},{"d":"3","x":0.85,"y":0.165},{"d":"3","x":0.87,"y":0.18},{"d":"3","x":0.89,"y":0.17},{"d":"3","x":0.91,"y":0.185},{"d":"3","x":0.93,"y":0.175},{"d":"3","x":0.95,"y":0.195},{"d":"3","x":0.97,"y":0.18},{"d":"3","x":1.0,"y":0.19},{"d":"3","x":1.03,"y":0.205},{"d":"3","x":1.06,"y":0.185},{"d":"3","x":1.09,"y":0.2},{"d":"3","x":1.12,"y":0.19},{"d":"3","x":1.15,"y":0.21},{"d":"3","x":1.18,"y":0.195},{"d":"3","x":1.21,"y":0.205},{"d":"3","x":1.24,"y":0.19},{"d":"3","x":1.25,"y":0.225},{"d":"3","x":1.27,"y":0.215},{"d":"3","x":1.3,"y":0.2},{"d":"3","x":1.33,"y":0.21},{"d":"3","x":1.36,"y":0.195},{"d":"3","x":1.39,"y":0.205},{"d":"3","x":1.42,"y":0.19},{"d":"3","x":1.45,"y":0.2},{"d":"3","x":1.48,"y":0.185},{"d":"3","x":1.5,"y":0.22},{"d":"3","x":1.51,"y":0.195},{"d":"3","x":1.54,"y":0.205},{"d":"3","x":1.57,"y":0.19},{"d":"3","x":1.6,"y":0.2},{"d":"3","x":1.63,"y":0.185},{"d":"3","x":1.66,"y":0.195},{"d":"3","x":1.69,"y":0.205},{"d":"3","x":1.72,"y":0.19},{"d":"3","x":1.75,"y":0.21},{"d":"3","x":1.77,"y":0.225},{"d":"3","x":1.78,"y":0.2},{"d":"3","x":1.81,"y":0.19},{"d":"3","x":1.84,"y":0.2},{"d":"3","x":1.87,"y":0.18},{"d":"3","x":1.9,"y":0.19},{"d":"3","x":1.93,"y":0.175},{"d":"3","x":1.96,"y":0.185},{"d":"3","x":1.99,"y":0.17},{"d":"3","x":2.02,"y":0.18},{"d":"3","x":2.05,"y":0.165},{"d":"3","x":2.08,"y":0.175},{"d":"3","x":2.1,"y":0.195},{"d":"3","x":2.11,"y":0.16},{"d":"3","x":2.14,"y":0.17},{"d":"3","x":2.17,"y":0.155},{"d":"3","x":2.2,"y":0.165},{"d":"3","x":2.23,"y":0.15},{"d":"3","x":2.26,"y":0.16},{"d":"3","x":2.3,"y":0.175},{"d":"3","x":2.3,"y":0.155},{"d":"3","x":2.34,"y":0.145},{"d":"3","x":2.36,"y":0.125},{"d":"3","x":2.38,"y":0.15},{"d":"3","x":2.42,"y":0.14},{"d":"3","x":2.46,"y":0.145},{"d":"3","x":2.5,"y":0.135},{"d":"3","x":2.54,"y":0.13},{"d":"3","x":2.58,"y":0.125},{"d":"3","x":2.62,"y":0.12},{"d":"3","x":2.66,"y":0.115},{"d":"3","x":2.7,"y":0.11},{"d":"3","x":2.74,"y":0.105},{"d":"3","x":2.78,"y":0.1},{"d":"3","x":2.82,"y":0.095},{"d":"3","x":2.86,"y":0.09},{"d":"3","x":2.9,"y":0.085},{"d":"3","x":2.94,"y":0.08},{"d":"3","x":2.98,"y":0.075},{"d":"3","x":3.02,"y":0.07},{"d":"3","x":3.06,"y":0.065},{"d":"3","x":3.1,"y":0.06},{"d":"3","x":3.14,"y":0.055},{"d":"3","x":3.18,"y":0.05},{"d":"3","x":3.22,"y":0.045},{"d":"3","x":3.26,"y":0.04},{"d":"3","x":3.3,"y":0.035},{"d":"3","x":3.34,"y":0.04},{"d":"3","x":3.38,"y":0.03},{"d":"3","x":3.42,"y":0.025},{"d":"3","x":3.46,"y":0.03},{"d":"3","x":3.5,"y":0.02},{"d":"3","x":3.54,"y":0.025},{"d":"3","x":3.58,"y":0.015},{"d":"3","x":3.62,"y":0.02},{"d":"3","x":3.66,"y":0.01},{"d":"3","x":3.7,"y":0.015},{"d":"3","x":3.74,"y":0.005},{"d":"3","x":3.78,"y":0.01},{"d":"3","x":3.82,"y":0.0},{"d":"3","x":3.86,"y":0.005},{"d":"3","x":3.88,"y":-0.01},{"d":"3","x":3.9,"y":0.0},{"d":"3","x":3.91,"y":-0.02},{"d":"3","x":3.92,"y":-0.01},{"d":"3","x":3.93,"y":-0.035},{"d":"3","x":3.94,"y":-0.05},{"d":"3","x":3.95,"y":-0.02},
{"d":"4","x":0.95,"y":0.01},{"d":"4","x":0.96,"y":0.03},{"d":"4","x":0.97,"y":0.0},{"d":"4","x":0.99,"y":0.025},{"d":"4","x":1.0,"y":0.04},{"d":"4","x":1.01,"y":0.0},{"d":"4","x":1.02,"y":0.02},{"d":"4","x":1.04,"y":0.035},{"d":"4","x":1.06,"y":0.045},{"d":"4","x":1.08,"y":0.03},{"d":"4","x":1.1,"y":0.05},{"d":"4","x":1.12,"y":0.04},{"d":"4","x":1.14,"y":0.055},{"d":"4","x":1.16,"y":0.045},{"d":"4","x":1.18,"y":0.06},{"d":"4","x":1.2,"y":0.05},{"d":"4","x":1.22,"y":0.065},{"d":"4","x":1.25,"y":0.04},{"d":"4","x":1.26,"y":0.055},{"d":"4","x":1.28,"y":0.07},{"d":"4","x":1.3,"y":0.06},{"d":"4","x":1.33,"y":0.065},{"d":"4","x":1.36,"y":0.055},{"d":"4","x":1.38,"y":0.085},{"d":"4","x":1.4,"y":0.07},{"d":"4","x":1.42,"y":0.095},{"d":"4","x":1.43,"y":0.06},{"d":"4","x":1.46,"y":0.075},{"d":"4","x":1.5,"y":0.065},{"d":"4","x":1.53,"y":0.07},{"d":"4","x":1.56,"y":0.06},{"d":"4","x":1.6,"y":0.075},{"d":"4","x":1.63,"y":0.065},{"d":"4","x":1.66,"y":0.07},{"d":"4","x":1.7,"y":0.075},{"d":"4","x":1.73,"y":0.065},{"d":"4","x":1.76,"y":0.08},{"d":"4","x":1.8,"y":0.07},{"d":"4","x":1.83,"y":0.075},{"d":"4","x":1.86,"y":0.08},{"d":"4","x":1.9,"y":0.09},{"d":"4","x":1.92,"y":0.095},{"d":"4","x":1.93,"y":0.08},{"d":"4","x":1.96,"y":0.075},{"d":"4","x":2.0,"y":0.07},{"d":"4","x":2.03,"y":0.075},{"d":"4","x":2.06,"y":0.065},{"d":"4","x":2.1,"y":0.07},{"d":"4","x":2.13,"y":0.075},{"d":"4","x":2.16,"y":0.065},{"d":"4","x":2.2,"y":0.07},{"d":"4","x":2.24,"y":0.06},{"d":"4","x":2.28,"y":0.065},{"d":"4","x":2.32,"y":0.07},{"d":"4","x":2.36,"y":0.06},{"d":"4","x":2.4,"y":0.065},{"d":"4","x":2.44,"y":0.07},{"d":"4","x":2.48,"y":0.06},{"d":"4","x":2.52,"y":0.065},{"d":"4","x":2.55,"y":0.035},{"d":"4","x":2.56,"y":0.055},{"d":"4","x":2.6,"y":0.05},{"d":"4","x":2.64,"y":0.055},{"d":"4","x":2.68,"y":0.045},{"d":"4","x":2.72,"y":0.05},{"d":"4","x":2.76,"y":0.04},{"d":"4","x":2.8,"y":0.045},{"d":"4","x":2.84,"y":0.05},{"d":"4","x":2.88,"y":0.04},{"d":"4","x":2.92,"y":0.045},{"d":"4","x":2.96,"y":0.035},{"d":"4","x":3.0,"y":0.04},{"d":"4","x":3.04,"y":0.03},{"d":"4","x":3.08,"y":0.035},{"d":"4","x":3.12,"y":0.025},{"d":"4","x":3.16,"y":0.03},{"d":"4","x":3.2,"y":0.02},{"d":"4","x":3.24,"y":0.03},{"d":"4","x":3.28,"y":0.015},{"d":"4","x":3.32,"y":0.025},{"d":"4","x":3.36,"y":0.02},{"d":"4","x":3.4,"y":0.015},{"d":"4","x":3.44,"y":0.025},{"d":"4","x":3.48,"y":0.02},{"d":"4","x":3.52,"y":0.015},{"d":"4","x":3.56,"y":0.025},{"d":"4","x":3.6,"y":0.02},{"d":"4","x":3.64,"y":0.015},{"d":"4","x":3.68,"y":0.025},{"d":"4","x":3.72,"y":0.02},{"d":"4","x":3.76,"y":0.03},{"d":"4","x":3.8,"y":0.035},{"d":"4","x":3.84,"y":0.025},{"d":"4","x":3.88,"y":0.02},{"d":"4","x":3.92,"y":0.015}
  ]},
   "mark":{"type":"point","opacity":1,"strokeWidth":1,"size":30},
   "encoding":{
    "x":{"field":"x","type":"quantitative","scale":{"domain":[-1,4],"nice":false,"zero":false},"axis":{"orient":"bottom","values":[-1,0,1,2,3,4],"format":"~g","title":"ΔX\u2003(cm)","titlePadding":13,"labelPadding":18}},
    "y":{"field":"y","type":"quantitative","scale":{"domain":[-0.1,0.7],"nice":false,"zero":false},"axis":{"orient":"left","values":[-0.1,0,0.1,0.2,0.3,0.4,0.5,0.6,0.7],"format":"~g","title":"Δy\u2003(cm)","titlePadding":16,"labelPadding":17}},
    "stroke":{"field":"d","type":"nominal","scale":{"domain":["1","2","3","4"],"range":["#0000ff","#ff0000","#00ff00","#ff00ff"]},"legend":{"orient":"none","legendX":13,"legendY":269,"title":null,"labelFont":"Liberation Serif","labelFontSize":21,"labelColor":"black","labelOffset":14,"rowPadding":12,"symbolSize":25,"symbolStrokeWidth":1,"labelExpr":"'d\u2002=\u2002' + datum.label + '\u2002cm'"}},
    "fill":{"field":"d","type":"nominal","scale":{"domain":["1","2","3","4"],"range":["transparent","transparent","transparent","#ff00ff"]},"legend":{"orient":"none","legendX":13,"legendY":269,"title":null,"labelFont":"Liberation Serif","labelFontSize":21,"labelColor":"black","labelOffset":14,"rowPadding":12,"symbolSize":25,"symbolStrokeWidth":1,"labelExpr":"'d\u2002=\u2002' + datum.label + '\u2002cm'"}},
    "shape":{"field":"d","type":"nominal","scale":{"domain":["1","2","3","4"],"range":["circle","square","diamond","M0,-1L0.2245,-0.309L0.951,-0.309L0.363,0.118L0.588,0.809L0,0.382L-0.588,0.809L-0.363,0.118L-0.951,-0.309L-0.2245,-0.309Z"]},"legend":{"orient":"none","legendX":13,"legendY":269,"title":null,"labelFont":"Liberation Serif","labelFontSize":21,"labelColor":"black","labelOffset":14,"rowPadding":12,"symbolSize":25,"symbolStrokeWidth":1,"labelExpr":"'d\u2002=\u2002' + datum.label + '\u2002cm'"}}
   }},
  {"data":{"values":[{}]},"mark":{"type":"text","text":"(b)","font":"Liberation Serif","fontSize":22,"align":"center","baseline":"middle","color":"black"},
   "encoding":{"x":{"datum":-0.476,"scale":{"domain":[-1,4],"nice":false,"zero":false},"axis":{"orient":"top","values":[-1,0,1,2,3,4],"labels":false,"title":null}},
    "y":{"datum":0.638,"scale":{"domain":[-0.1,0.7],"nice":false,"zero":false},"axis":{"orient":"right","values":[-0.1,0,0.1,0.2,0.3,0.4,0.5,0.6,0.7],"labels":false,"title":null}}}},
  {"data":{"values":[{}]},"mark":{"type":"text","text":"L\u2002=\u20024\u2002cm","font":"Liberation Serif","fontSize":21,"align":"center","baseline":"middle","color":"black"},
   "encoding":{"x":{"datum":1.972,"scale":{"domain":[-1,4],"nice":false,"zero":false},"axis":null},"y":{"datum":-0.044,"scale":{"domain":[-0.1,0.7],"nice":false,"zero":false},"axis":null}}},
  {"data":{"values":[{}]},"mark":{"type":"rect","fill":"white"},
   "encoding":{"x":{"datum":-0.5,"scale":{"domain":[-0.5,4],"range":[264,479],"nice":false,"zero":false},"axis":null},"x2":{"datum":4},
    "y":{"datum":-0.1,"scale":{"domain":[-0.1,0.7],"range":[127,2],"nice":false,"zero":false},"axis":null},"y2":{"datum":0.7}}},
  {"data":{"values":[{"f":"a","x":-0.5,"y":0.49},{"f":"a","x":1.0,"y":0.1},{"f":"b","x":0.0,"y":0.7},{"f":"b","x":1.7,"y":0.15}]},
   "mark":{"type":"line","color":"#ff0000","strokeWidth":1,"strokeDash":[3,3]},
   "encoding":{"x":{"field":"x","type":"quantitative","scale":{"domain":[-0.5,4],"range":[264,479],"nice":false,"zero":false},"axis":null},
    "y":{"field":"y","type":"quantitative","scale":{"domain":[-0.1,0.7],"range":[127,2],"nice":false,"zero":false},"axis":null},
    "detail":{"field":"f"}}},
  {"data":{"values":[
{"m":"My","x":-0.45,"y":0.475},{"m":"My","x":-0.42,"y":0.47},{"m":"My","x":-0.4,"y":0.46},{"m":"My","x":-0.37,"y":0.455},{"m":"My","x":-0.35,"y":0.445},{"m":"My","x":-0.32,"y":0.44},{"m":"My","x":-0.3,"y":0.43},{"m":"My","x":-0.27,"y":0.425},{"m":"My","x":-0.25,"y":0.415},{"m":"My","x":-0.22,"y":0.41},{"m":"My","x":-0.2,"y":0.4},{"m":"My","x":-0.17,"y":0.395},{"m":"My","x":-0.15,"y":0.385},{"m":"My","x":-0.12,"y":0.38},{"m":"My","x":-0.1,"y":0.37},{"m":"My","x":-0.07,"y":0.37},{"m":"My","x":-0.05,"y":0.36},{"m":"My","x":0.0,"y":0.355},{"m":"My","x":0.05,"y":0.345},{"m":"My","x":0.1,"y":0.335},{"m":"My","x":0.15,"y":0.32},{"m":"My","x":0.2,"y":0.31},{"m":"My","x":0.25,"y":0.3},{"m":"My","x":0.3,"y":0.285},{"m":"My","x":0.35,"y":0.275},{"m":"My","x":0.4,"y":0.26},{"m":"My","x":0.45,"y":0.25},{"m":"My","x":0.5,"y":0.24},{"m":"My","x":0.55,"y":0.225},{"m":"My","x":0.6,"y":0.215},{"m":"My","x":0.65,"y":0.205},{"m":"My","x":0.7,"y":0.195},{"m":"My","x":0.75,"y":0.185},{"m":"My","x":0.8,"y":0.175},{"m":"My","x":0.85,"y":0.165},{"m":"My","x":0.9,"y":0.155},{"m":"My","x":0.95,"y":0.15},{"m":"My","x":1.0,"y":0.14},{"m":"My","x":1.05,"y":0.135},{"m":"My","x":1.1,"y":0.13},{"m":"My","x":1.15,"y":0.125},{"m":"My","x":1.2,"y":0.12},{"m":"My","x":1.25,"y":0.115},{"m":"My","x":1.3,"y":0.11},{"m":"My","x":1.35,"y":0.105},{"m":"My","x":1.4,"y":0.1},{"m":"My","x":1.45,"y":0.095},{"m":"My","x":1.5,"y":0.09},{"m":"My","x":1.55,"y":0.085},{"m":"My","x":1.6,"y":0.08},{"m":"My","x":1.65,"y":0.075},{"m":"My","x":1.7,"y":0.07},{"m":"My","x":1.75,"y":0.065},{"m":"My","x":1.8,"y":0.06},{"m":"My","x":1.85,"y":0.06},{"m":"My","x":1.9,"y":0.055},{"m":"My","x":1.95,"y":0.05},{"m":"My","x":2.0,"y":0.045},{"m":"My","x":2.05,"y":0.045},{"m":"My","x":2.1,"y":0.04},{"m":"My","x":2.15,"y":0.035},{"m":"My","x":2.2,"y":0.035},{"m":"My","x":2.25,"y":0.03},{"m":"My","x":2.3,"y":0.025},{"m":"My","x":2.35,"y":0.025},{"m":"My","x":2.4,"y":0.02},{"m":"My","x":2.45,"y":0.02},{"m":"My","x":2.5,"y":0.015},{"m":"My","x":2.55,"y":0.015},{"m":"My","x":2.6,"y":0.01},{"m":"My","x":2.65,"y":0.005},{"m":"My","x":2.7,"y":0.005},{"m":"My","x":2.75,"y":0.0},{"m":"My","x":2.8,"y":0.0},{"m":"My","x":2.85,"y":-0.005},{"m":"My","x":2.9,"y":-0.005},{"m":"My","x":2.95,"y":-0.01},{"m":"My","x":3.0,"y":-0.01},{"m":"My","x":3.05,"y":-0.015},{"m":"My","x":3.1,"y":-0.01},{"m":"My","x":3.15,"y":-0.02},{"m":"My","x":3.2,"y":-0.015},{"m":"My","x":3.25,"y":-0.02},{"m":"My","x":3.3,"y":-0.025},{"m":"My","x":3.35,"y":-0.02},{"m":"My","x":3.4,"y":-0.025},{"m":"My","x":3.45,"y":-0.03},{"m":"My","x":3.5,"y":-0.025},{"m":"My","x":3.55,"y":-0.03},{"m":"My","x":3.6,"y":-0.025},{"m":"My","x":3.65,"y":-0.02},{"m":"My","x":3.7,"y":-0.03},{"m":"My","x":3.75,"y":-0.02},{"m":"My","x":3.8,"y":-0.015},{"m":"My","x":3.85,"y":-0.02},{"m":"My","x":3.9,"y":-0.01},{"m":"My","x":3.95,"y":-0.06},
{"m":"Lu","x":-0.27,"y":0.64},{"m":"Lu","x":-0.25,"y":0.655},{"m":"Lu","x":-0.23,"y":0.645},{"m":"Lu","x":-0.21,"y":0.665},{"m":"Lu","x":-0.19,"y":0.65},{"m":"Lu","x":-0.17,"y":0.66},{"m":"Lu","x":-0.15,"y":0.67},{"m":"Lu","x":-0.13,"y":0.655},{"m":"Lu","x":-0.11,"y":0.665},{"m":"Lu","x":-0.09,"y":0.675},{"m":"Lu","x":-0.07,"y":0.66},{"m":"Lu","x":-0.05,"y":0.67},{"m":"Lu","x":-0.03,"y":0.68},{"m":"Lu","x":-0.01,"y":0.665},{"m":"Lu","x":0.01,"y":0.675},{"m":"Lu","x":0.03,"y":0.67},{"m":"Lu","x":0.05,"y":0.68},{"m":"Lu","x":0.07,"y":0.665},{"m":"Lu","x":0.09,"y":0.675},{"m":"Lu","x":0.11,"y":0.665},{"m":"Lu","x":0.13,"y":0.67},{"m":"Lu","x":0.15,"y":0.655},{"m":"Lu","x":0.17,"y":0.66},{"m":"Lu","x":0.19,"y":0.645},{"m":"Lu","x":0.22,"y":0.64},{"m":"Lu","x":0.25,"y":0.625},{"m":"Lu","x":0.28,"y":0.625},{"m":"Lu","x":0.31,"y":0.6},{"m":"Lu","x":0.34,"y":0.595},{"m":"Lu","x":0.37,"y":0.585},{"m":"Lu","x":0.4,"y":0.578},{"m":"Lu","x":0.43,"y":0.563},{"m":"Lu","x":0.45,"y":0.585},{"m":"Lu","x":0.46,"y":0.563},{"m":"Lu","x":0.5,"y":0.548},{"m":"Lu","x":0.53,"y":0.533},{"m":"Lu","x":0.56,"y":0.533},{"m":"Lu","x":0.6,"y":0.518},{"m":"Lu","x":0.63,"y":0.503},{"m":"Lu","x":0.66,"y":0.508},{"m":"Lu","x":0.7,"y":0.488},{"m":"Lu","x":0.73,"y":0.473},{"m":"Lu","x":0.75,"y":0.5},{"m":"Lu","x":0.76,"y":0.478},{"m":"Lu","x":0.8,"y":0.453},{"m":"Lu","x":0.83,"y":0.443},{"m":"Lu","x":0.86,"y":0.443},{"m":"Lu","x":0.9,"y":0.423},{"m":"Lu","x":0.93,"y":0.413},{"m":"Lu","x":0.96,"y":0.408},{"m":"Lu","x":1.0,"y":0.388},{"m":"Lu","x":1.03,"y":0.383},{"m":"Lu","x":1.05,"y":0.405},{"m":"Lu","x":1.06,"y":0.373},{"m":"Lu","x":1.1,"y":0.363},{"m":"Lu","x":1.13,"y":0.348},{"m":"Lu","x":1.16,"y":0.348},{"m":"Lu","x":1.2,"y":0.333},{"m":"Lu","x":1.23,"y":0.318},{"m":"Lu","x":1.26,"y":0.318},{"m":"Lu","x":1.3,"y":0.303},{"m":"Lu","x":1.33,"y":0.288},{"m":"Lu","x":1.35,"y":0.31},{"m":"Lu","x":1.36,"y":0.293},{"m":"Lu","x":1.4,"y":0.278},{"m":"Lu","x":1.43,"y":0.263},{"m":"Lu","x":1.46,"y":0.263},{"m":"Lu","x":1.5,"y":0.248},{"m":"Lu","x":1.53,"y":0.233},{"m":"Lu","x":1.56,"y":0.233},{"m":"Lu","x":1.6,"y":0.218},{"m":"Lu","x":1.63,"y":0.203},{"m":"Lu","x":1.65,"y":0.225},{"m":"Lu","x":1.66,"y":0.203},{"m":"Lu","x":1.7,"y":0.185},{"m":"Lu","x":1.73,"y":0.175},{"m":"Lu","x":1.76,"y":0.17},{"m":"Lu","x":1.8,"y":0.152},{"m":"Lu","x":1.83,"y":0.145},{"m":"Lu","x":1.86,"y":0.14},{"m":"Lu","x":1.9,"y":0.12},{"m":"Lu","x":1.93,"y":0.105},{"m":"Lu","x":1.95,"y":0.13},{"m":"Lu","x":1.96,"y":0.1},{"m":"Lu","x":2.0,"y":0.085},{"m":"Lu","x":2.05,"y":0.07},{"m":"Lu","x":2.1,"y":0.09},{"m":"Lu","x":2.1,"y":0.06},{"m":"Lu","x":2.15,"y":0.065},{"m":"Lu","x":2.2,"y":0.05},{"m":"Lu","x":2.25,"y":0.055},{"m":"Lu","x":2.3,"y":0.045},{"m":"Lu","x":2.35,"y":0.05},{"m":"Lu","x":2.4,"y":0.04},{"m":"Lu","x":2.45,"y":0.045},{"m":"Lu","x":2.5,"y":0.035},{"m":"Lu","x":2.55,"y":0.04},{"m":"Lu","x":2.6,"y":0.025},{"m":"Lu","x":2.65,"y":0.02},{"m":"Lu","x":2.7,"y":0.01},{"m":"Lu","x":2.75,"y":0.005},{"m":"Lu","x":2.8,"y":0.0},{"m":"Lu","x":2.85,"y":0.015},{"m":"Lu","x":2.9,"y":0.025},{"m":"Lu","x":2.95,"y":0.02},{"m":"Lu","x":3.0,"y":0.015},{"m":"Lu","x":3.05,"y":0.02},{"m":"Lu","x":3.1,"y":0.01},{"m":"Lu","x":3.15,"y":0.015},{"m":"Lu","x":3.2,"y":0.005},{"m":"Lu","x":3.25,"y":0.01},{"m":"Lu","x":3.3,"y":0.015},{"m":"Lu","x":3.35,"y":0.025},{"m":"Lu","x":3.4,"y":0.03},{"m":"Lu","x":3.45,"y":0.02},{"m":"Lu","x":3.5,"y":0.035},{"m":"Lu","x":3.55,"y":0.03},{"m":"Lu","x":3.6,"y":0.035},{"m":"Lu","x":3.65,"y":0.045},{"m":"Lu","x":3.7,"y":0.035},{"m":"Lu","x":3.75,"y":0.045},{"m":"Lu","x":3.8,"y":0.05},{"m":"Lu","x":3.85,"y":0.045},{"m":"Lu","x":3.9,"y":0.055},{"m":"Lu","x":3.95,"y":0.06},{"m":"Lu","x":3.97,"y":0.03},{"m":"Lu","x":3.99,"y":0.005}
  ]},
   "mark":{"type":"point","opacity":1,"strokeWidth":1,"size":18},
   "encoding":{
    "x":{"field":"x","type":"quantitative","scale":{"domain":[-0.5,4],"range":[264,479],"nice":false,"zero":false},"axis":{"orient":"bottom","offset":-280,"values":[0,1,2,3],"format":"~g","domain":true,"domainColor":"black","domainWidth":1.5,"tickSize":-4,"labelPadding":12,"labelFontSize":14,"title":"ΔX\u2003(cm)","titleFontSize":18,"titlePadding":3,"zindex":1}},
    "y":{"field":"y","type":"quantitative","scale":{"domain":[-0.1,0.7],"range":[127,2],"nice":false,"zero":false},"axis":{"orient":"left","offset":-264,"values":[0,0.2,0.4,0.6],"format":"~g","domain":true,"domainColor":"black","domainWidth":1.5,"tickSize":-4,"labelPadding":9,"labelFontSize":14,"title":"Δy\u2003(cm)","titleFontSize":18,"titlePadding":13,"zindex":1}},
    "stroke":{"field":"m","type":"nominal","scale":{"domain":["My","Lu"],"range":["#000000","#00ffff"]},"legend":{"orient":"none","legendX":327,"legendY":5,"title":null,"labelFont":"Liberation Serif","labelFontSize":20,"labelColor":"black","labelOffset":0,"rowPadding":5,"symbolSize":22,"symbolStrokeWidth":1,"labelExpr":"datum.label == 'My' ? 'PET\u2002Mylar' : 'PET\u2002Lumirror'"}},
    "fill":{"field":"m","type":"nominal","scale":{"domain":["My","Lu"],"range":["transparent","transparent"]},"legend":{"orient":"none","legendX":327,"legendY":5,"title":null,"labelFont":"Liberation Serif","labelFontSize":20,"labelColor":"black","labelOffset":0,"rowPadding":5,"symbolSize":22,"symbolStrokeWidth":1,"labelExpr":"datum.label == 'My' ? 'PET\u2002Mylar' : 'PET\u2002Lumirror'"}},
    "shape":{"field":"m","type":"nominal","scale":{"domain":["My","Lu"],"range":["M-1,-1L1,1M-1,1L1,-1","triangle-down"]},"legend":{"orient":"none","legendX":327,"legendY":5,"title":null,"labelFont":"Liberation Serif","labelFontSize":20,"labelColor":"black","labelOffset":0,"rowPadding":5,"symbolSize":22,"symbolStrokeWidth":1,"labelExpr":"datum.label == 'My' ? 'PET\u2002Mylar' : 'PET\u2002Lumirror'"}}
   }},
  {"data":{"values":[{}]},"mark":{"type":"text","text":"L\u2002=\u20024\u2002cm","font":"Liberation Serif","fontSize":17,"align":"center","baseline":"middle","color":"black"},
   "encoding":{"x":{"datum":2.77,"scale":{"domain":[-0.5,4],"range":[264,479],"nice":false,"zero":false},"axis":{"orient":"top","offset":-2,"values":[0,1,2,3],"labels":false,"title":null,"domain":true,"domainColor":"black","domainWidth":1.5,"tickSize":-4,"zindex":1}},
    "y":{"datum":0.295,"scale":{"domain":[-0.1,0.7],"range":[127,2],"nice":false,"zero":false},"axis":{"orient":"right","offset":-1,"values":[0,0.2,0.4,0.6],"labels":false,"title":null,"domain":true,"domainColor":"black","domainWidth":1.5,"tickSize":-4,"zindex":1}}}},
  {"data":{"values":[{}]},"mark":{"type":"text","text":"d\u2002=\u20020\u2002cm","font":"Liberation Serif","fontSize":17,"align":"center","baseline":"middle","color":"black"},
   "encoding":{"x":{"datum":2.85,"scale":{"domain":[-0.5,4],"range":[264,479],"nice":false,"zero":false},"axis":null},
    "y":{"datum":0.178,"scale":{"domain":[-0.1,0.7],"range":[127,2],"nice":false,"zero":false},"axis":null}}}
 ]
}
]
}
